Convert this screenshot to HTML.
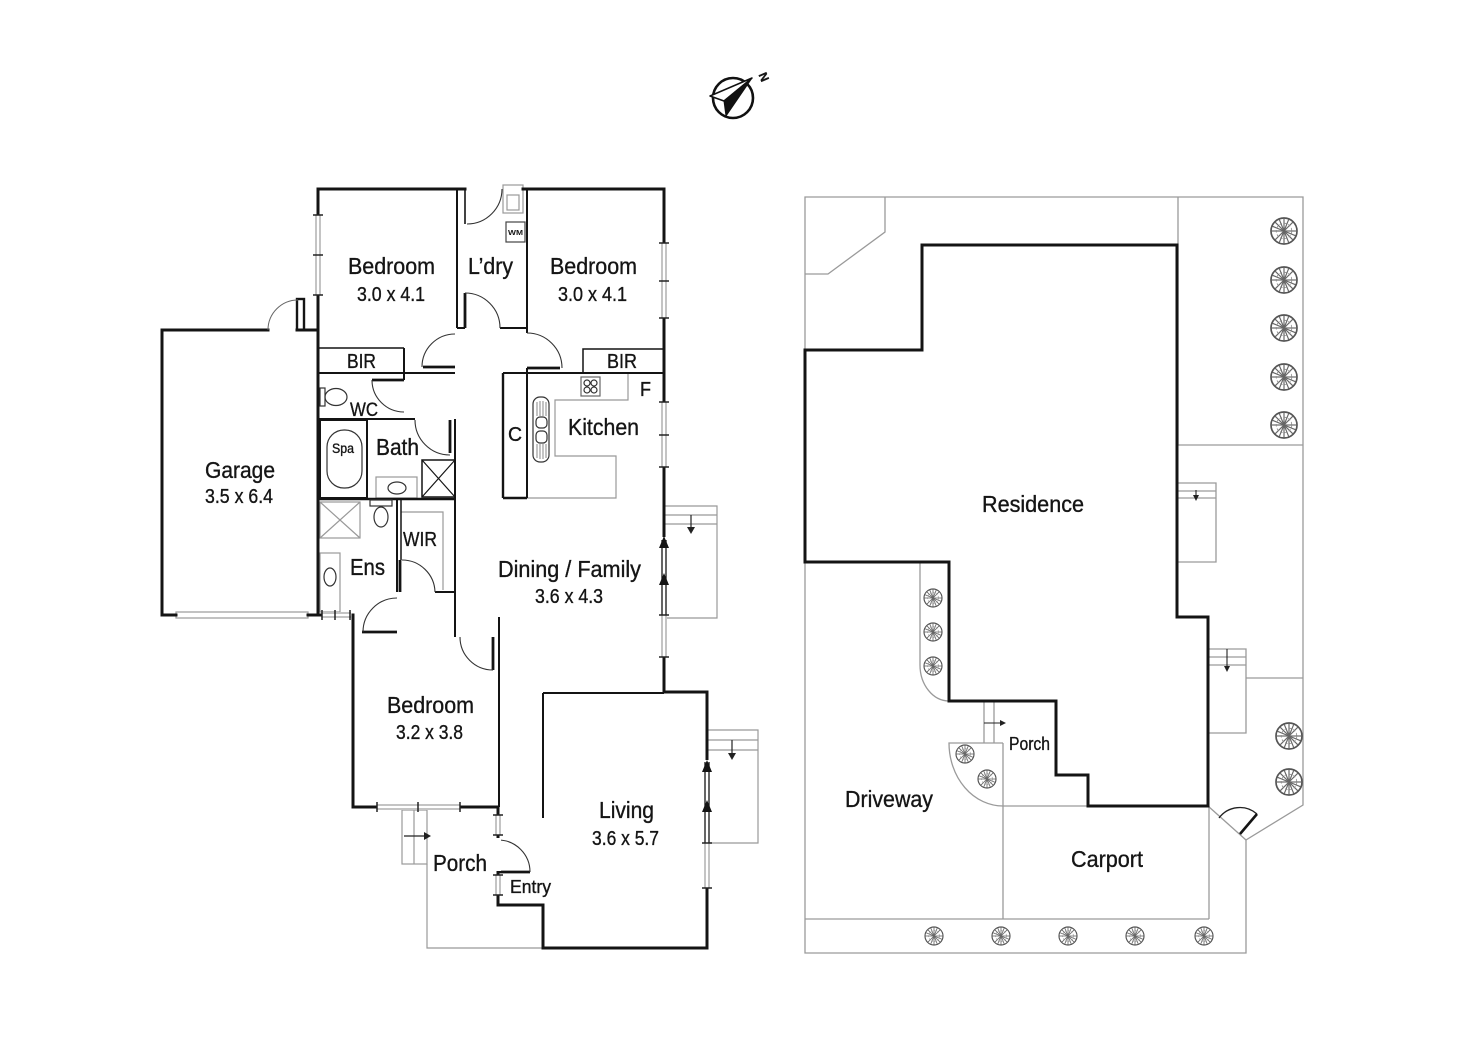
<!DOCTYPE html>
<html>
<head>
<meta charset="utf-8">
<style>
html,body{margin:0;padding:0;background:#fff;}
svg{display:block;}
text{font-family:"Liberation Sans",Arial,sans-serif;fill:#151515;stroke:#151515;stroke-width:0.35;}
</style>
</head>
<body>
<svg width="1472" height="1041" viewBox="0 0 1472 1041" xmlns="http://www.w3.org/2000/svg">
<defs>
  <g id="tree">
    <circle cx="0" cy="0" r="10" fill="#fff" stroke="#555" stroke-width="1.3"/>
    <g stroke="#666" stroke-width="0.9">
      <line x1="0" y1="0" x2="0" y2="-9.5"/>
      <line x1="0" y1="0" x2="6.7" y2="-6.7"/>
      <line x1="0" y1="0" x2="9.5" y2="0"/>
      <line x1="0" y1="0" x2="6.7" y2="6.7"/>
      <line x1="0" y1="0" x2="0" y2="9.5"/>
      <line x1="0" y1="0" x2="-6.7" y2="6.7"/>
      <line x1="0" y1="0" x2="-9.5" y2="0"/>
      <line x1="0" y1="0" x2="-6.7" y2="-6.7"/>
      <line x1="0" y1="0" x2="3.6" y2="-8.8"/>
      <line x1="0" y1="0" x2="-3.6" y2="8.8"/>
      <line x1="0" y1="0" x2="8.8" y2="3.6"/>
      <line x1="0" y1="0" x2="-8.8" y2="-3.6"/>
      <line x1="0" y1="0" x2="-3.6" y2="-8.8"/>
      <line x1="0" y1="0" x2="3.6" y2="8.8"/>
    </g>
    <circle cx="0" cy="0" r="6" fill="none" stroke="#888" stroke-width="0.6" stroke-dasharray="2 1.5"/>
  </g>
</defs>

<!-- ================= COMPASS ================= -->
<circle cx="733" cy="98" r="20" fill="none" stroke="#111" stroke-width="2.6"/>
<polygon points="710,96 752,78 724,101" fill="#fff" stroke="#111" stroke-width="1.5" stroke-linejoin="round"/>
<polygon points="752,78 724,101 726,116" fill="#111" stroke="#111" stroke-width="1"/>
<text x="762" y="77" font-size="12" font-weight="bold" transform="rotate(67 762 73)">N</text>

<!-- ================= LEFT FLOOR PLAN ================= -->
<g fill="none" stroke="#999" stroke-width="1.2">
  <rect x="176" y="612" width="132" height="6"/>
  <rect x="503" y="185" width="20" height="28"/>
  <rect x="507" y="195" width="12" height="15"/>
  <polyline points="628,373 628,400 555,400 555,456 616,456 616,498 527,498"/>
  <line x1="503" y1="380" x2="503" y2="492"/>
  <rect x="376" y="477" width="41" height="21"/>
  <rect x="320" y="502" width="40" height="36"/>
  <line x1="320" y1="502" x2="360" y2="538"/>
  <line x1="360" y1="502" x2="320" y2="538"/>
  <rect x="320" y="553" width="20" height="59"/>
  <polyline points="401,512 443,512 443,590"/>
  <polyline points="664,506 717,506 717,618 664,618"/>
  <line x1="664" y1="515" x2="717" y2="515"/>
  <line x1="664" y1="524" x2="717" y2="524"/>
  <polyline points="707,730 758,730 758,843 707,843"/>
  <line x1="707" y1="740" x2="758" y2="740"/>
  <line x1="707" y1="750" x2="758" y2="750"/>
  <rect x="402" y="810" width="25" height="54"/>
  <line x1="414" y1="810" x2="414" y2="864"/>
  <polyline points="427,864 427,948 543,948"/>
</g>

<g fill="none" stroke="#141414" stroke-width="3" stroke-linejoin="miter" stroke-linecap="square">
  <polyline points="318,615 318,189 465,189"/>
  <polyline points="523,189 664,189 664,692 707,692 707,948 543,948 543,905 498,905 498,807 353,807 353,615"/>
  <polyline points="268,330 162,330 162,615 176,615"/>
  <line x1="308" y1="615" x2="322" y2="615"/>
  <rect x="297" y="299" width="7" height="31" stroke-width="2.4"/>
  <line x1="297" y1="330" x2="318" y2="330"/>
</g>
<path d="M268,330 A30,30 0 0 1 298,300" fill="none" stroke="#666" stroke-width="1"/>

<g fill="none" stroke="#141414" stroke-width="2">
  <line x1="457" y1="189" x2="457" y2="328"/>
  <line x1="465" y1="189" x2="465" y2="224" stroke-width="1.6"/>
  <line x1="457" y1="328" x2="465" y2="328"/>
  <line x1="500" y1="328" x2="527" y2="328"/>
  <line x1="527" y1="189" x2="527" y2="333"/>
  <line x1="503" y1="373" x2="664" y2="373"/>
  <polyline points="583,373 583,349 663,349" stroke-width="1.5"/>
  <line x1="503" y1="373" x2="503" y2="498" stroke-width="2.4"/>
  <line x1="527" y1="368" x2="527" y2="498"/>
  <line x1="503" y1="498" x2="527" y2="498" stroke-width="2.4"/>
  <line x1="318" y1="348" x2="404" y2="348" stroke-width="1.5"/>
  <line x1="404" y1="348" x2="404" y2="380"/>
  <line x1="318" y1="373" x2="455" y2="373"/>
  <line x1="318" y1="419" x2="415" y2="419"/>
  <rect x="320" y="420" width="47" height="78"/>
  <line x1="367" y1="419" x2="415" y2="419"/>
  <line x1="455" y1="419" x2="455" y2="637"/>
  <line x1="318" y1="499" x2="455" y2="499" stroke-width="2.6"/>
  <rect x="422" y="460" width="33" height="37" stroke-width="1.5"/>
  <line x1="422" y1="460" x2="455" y2="497" stroke-width="1.2"/>
  <line x1="455" y1="460" x2="422" y2="497" stroke-width="1.2"/>
  <line x1="397" y1="500" x2="397" y2="592"/>
  <line x1="401" y1="500" x2="401" y2="560" stroke-width="1.5"/>
  <line x1="435" y1="592" x2="455" y2="592"/>
  <line x1="499" y1="617" x2="499" y2="807"/>
  <line x1="543" y1="693" x2="543" y2="818"/>
  <line x1="543" y1="693" x2="664" y2="693"/>
</g>

<g stroke="#141414" stroke-width="2.8" fill="none">
  <line x1="465" y1="293" x2="465" y2="328"/>
  <line x1="527" y1="368" x2="560" y2="368"/>
  <line x1="423" y1="367" x2="455" y2="367"/>
  <line x1="372" y1="380" x2="404" y2="380"/>
  <line x1="450" y1="420" x2="450" y2="453"/>
  <line x1="400" y1="560" x2="400" y2="592"/>
  <line x1="362" y1="632" x2="397" y2="632"/>
  <line x1="493" y1="637" x2="493" y2="670"/>
  <line x1="498" y1="872" x2="530" y2="872"/>
</g>
<g stroke="#333" stroke-width="1.1" fill="none">
  <path d="M467,224 A35,35 0 0 0 502,189"/>
  <path d="M465,293 A35,35 0 0 1 500,328"/>
  <path d="M527,333 A35,35 0 0 1 562,368"/>
  <path d="M422,367 A33,33 0 0 1 455,334"/>
  <path d="M372,380 A32,32 0 0 0 404,412"/>
  <path d="M415,420 A35,35 0 0 0 450,455"/>
  <path d="M402,560 A33,33 0 0 1 435,592"/>
  <path d="M363,632 A34,34 0 0 1 397,598"/>
  <path d="M460,637 A33,33 0 0 0 493,670"/>
  <path d="M498,840 A32,32 0 0 1 530,872"/>
</g>

<g fill="#fff" stroke="none">
  <rect x="315" y="215" width="6" height="80"/>
  <rect x="661" y="243" width="6" height="75"/>
  <rect x="661" y="402" width="6" height="65"/>
  <rect x="661" y="537" width="6" height="120"/>
  <rect x="704" y="760" width="6" height="128"/>
  <rect x="377" y="804" width="83" height="6"/>
  <rect x="495" y="815" width="6" height="20"/>
  <rect x="495" y="838" width="6" height="33"/>
  <rect x="495" y="875" width="6" height="20"/>
  <rect x="322" y="612" width="29" height="6"/>
</g>
<g stroke="#888" stroke-width="1" fill="none">
  <line x1="316" y1="215" x2="316" y2="295"/><line x1="320" y1="215" x2="320" y2="295"/>
  <line x1="662" y1="243" x2="662" y2="318"/><line x1="666" y1="243" x2="666" y2="318"/>
  <line x1="662" y1="402" x2="662" y2="467"/><line x1="666" y1="402" x2="666" y2="467"/>
  <line x1="662" y1="615" x2="662" y2="657"/><line x1="666" y1="615" x2="666" y2="657"/>
  <line x1="705" y1="843" x2="705" y2="888"/><line x1="709" y1="843" x2="709" y2="888"/>
  <line x1="377" y1="805" x2="460" y2="805"/><line x1="377" y1="809" x2="460" y2="809"/>
  <line x1="496" y1="815" x2="496" y2="835"/><line x1="500" y1="815" x2="500" y2="835"/>
  <line x1="496" y1="875" x2="496" y2="895"/><line x1="500" y1="875" x2="500" y2="895"/>
  <line x1="322" y1="613" x2="351" y2="613"/><line x1="322" y1="617" x2="351" y2="617"/>
</g>
<g stroke="#141414" stroke-width="1.3">
  <line x1="662" y1="540" x2="662" y2="615"/><line x1="666" y1="540" x2="666" y2="615"/>
  <line x1="705" y1="762" x2="705" y2="843"/><line x1="709" y1="762" x2="709" y2="843"/>
</g>
<g fill="#141414">
  <polygon points="664,536 659,548 669,548"/>
  <polygon points="664,573 659,585 669,585"/>
  <polygon points="707,760 702,772 712,772"/>
  <polygon points="707,800 702,812 712,812"/>
</g>
<g stroke="#222" stroke-width="1.5">
  <line x1="313" y1="215" x2="323" y2="215"/><line x1="313" y1="255" x2="323" y2="255"/><line x1="313" y1="295" x2="323" y2="295"/>
  <line x1="659" y1="243" x2="669" y2="243"/><line x1="659" y1="281" x2="669" y2="281"/><line x1="659" y1="318" x2="669" y2="318"/>
  <line x1="659" y1="402" x2="669" y2="402"/><line x1="659" y1="435" x2="669" y2="435"/><line x1="659" y1="467" x2="669" y2="467"/>
  <line x1="659" y1="615" x2="669" y2="615"/><line x1="659" y1="657" x2="669" y2="657"/>
  <line x1="702" y1="843" x2="712" y2="843"/><line x1="702" y1="888" x2="712" y2="888"/>
  <line x1="377" y1="802" x2="377" y2="812"/><line x1="418" y1="802" x2="418" y2="812"/><line x1="460" y1="802" x2="460" y2="812"/>
  <line x1="493" y1="815" x2="503" y2="815"/><line x1="493" y1="835" x2="503" y2="835"/>
  <line x1="493" y1="875" x2="503" y2="875"/><line x1="493" y1="895" x2="503" y2="895"/>
  <line x1="322" y1="610" x2="322" y2="620"/><line x1="335" y1="610" x2="335" y2="620"/><line x1="350" y1="610" x2="350" y2="620"/>
</g>

<g stroke="#222" stroke-width="1.2">
  <line x1="691" y1="515" x2="691" y2="530"/>
  <line x1="732" y1="740" x2="732" y2="756"/>
  <line x1="404" y1="836" x2="426" y2="836"/>
</g>
<g fill="#222">
  <polygon points="691,534 687,527 695,527"/>
  <polygon points="732,760 728,753 736,753"/>
  <polygon points="431,836 424,832 424,840"/>
</g>

<g fill="none" stroke="#333" stroke-width="1.2">
  <rect x="320" y="388" width="5" height="18"/>
  <ellipse cx="336" cy="397" rx="11" ry="8.5"/>
  <rect x="327" y="430" width="35" height="58" rx="17" ry="17"/>
  <ellipse cx="397" cy="488" rx="9" ry="6"/>
  <rect x="370" y="500" width="22" height="6"/>
  <ellipse cx="381" cy="517" rx="7" ry="10"/>
  <ellipse cx="330" cy="577" rx="6" ry="9"/>
  <rect x="581" y="377" width="19" height="19" stroke="#666"/>
  <circle cx="587" cy="383" r="3"/><circle cx="594" cy="383" r="3"/>
  <circle cx="587" cy="390" r="3"/><circle cx="594" cy="390" r="3"/>
  <rect x="533" y="397" width="16" height="65" rx="7" ry="7"/>
  <rect x="536" y="417" width="11" height="11" rx="4" ry="4"/>
  <rect x="536" y="431" width="11" height="12" rx="4" ry="4"/>
  <rect x="506" y="222" width="19" height="20" stroke="#444"/>
</g>
<g stroke="#555" stroke-width="0.7">
  <line x1="537" y1="402" x2="537" y2="416"/><line x1="540" y1="401" x2="540" y2="416"/><line x1="543" y1="401" x2="543" y2="416"/><line x1="546" y1="402" x2="546" y2="416"/>
  <line x1="537" y1="444" x2="537" y2="458"/><line x1="540" y1="444" x2="540" y2="459"/><line x1="543" y1="444" x2="543" y2="459"/><line x1="546" y1="444" x2="546" y2="458"/>
</g>
<text x="508" y="235" font-size="7" font-weight="bold" textLength="15" lengthAdjust="spacingAndGlyphs" style="stroke-width:0">WM</text>

<g>
  <text x="348" y="274" font-size="23" textLength="87" lengthAdjust="spacingAndGlyphs">Bedroom</text>
  <text x="357" y="301" font-size="20" textLength="68" lengthAdjust="spacingAndGlyphs">3.0 x 4.1</text>
  <text x="468" y="274" font-size="23" textLength="45" lengthAdjust="spacingAndGlyphs">L’dry</text>
  <text x="550" y="274" font-size="23" textLength="87" lengthAdjust="spacingAndGlyphs">Bedroom</text>
  <text x="558" y="301" font-size="20" textLength="69" lengthAdjust="spacingAndGlyphs">3.0 x 4.1</text>
  <text x="347" y="368" font-size="20" textLength="29" lengthAdjust="spacingAndGlyphs">BIR</text>
  <text x="607" y="368" font-size="20" textLength="30" lengthAdjust="spacingAndGlyphs">BIR</text>
  <text x="640" y="396" font-size="20" textLength="11" lengthAdjust="spacingAndGlyphs">F</text>
  <text x="350" y="416" font-size="19" textLength="28" lengthAdjust="spacingAndGlyphs">WC</text>
  <text x="568" y="435" font-size="23" textLength="71" lengthAdjust="spacingAndGlyphs">Kitchen</text>
  <text x="508" y="441" font-size="20" textLength="14" lengthAdjust="spacingAndGlyphs">C</text>
  <text x="332" y="453" font-size="14" textLength="22" lengthAdjust="spacingAndGlyphs">Spa</text>
  <text x="376" y="455" font-size="23" textLength="43" lengthAdjust="spacingAndGlyphs">Bath</text>
  <text x="205" y="478" font-size="23" textLength="70" lengthAdjust="spacingAndGlyphs">Garage</text>
  <text x="205" y="503" font-size="20" textLength="68" lengthAdjust="spacingAndGlyphs">3.5 x 6.4</text>
  <text x="403" y="546" font-size="20" textLength="34" lengthAdjust="spacingAndGlyphs">WIR</text>
  <text x="350" y="575" font-size="23" textLength="35" lengthAdjust="spacingAndGlyphs">Ens</text>
  <text x="498" y="577" font-size="23" textLength="143" lengthAdjust="spacingAndGlyphs">Dining / Family</text>
  <text x="535" y="603" font-size="20" textLength="68" lengthAdjust="spacingAndGlyphs">3.6 x 4.3</text>
  <text x="387" y="713" font-size="23" textLength="87" lengthAdjust="spacingAndGlyphs">Bedroom</text>
  <text x="396" y="739" font-size="20" textLength="67" lengthAdjust="spacingAndGlyphs">3.2 x 3.8</text>
  <text x="433" y="871" font-size="23" textLength="54" lengthAdjust="spacingAndGlyphs">Porch</text>
  <text x="510" y="893" font-size="18" textLength="41" lengthAdjust="spacingAndGlyphs">Entry</text>
  <text x="599" y="818" font-size="23" textLength="55" lengthAdjust="spacingAndGlyphs">Living</text>
  <text x="592" y="845" font-size="20" textLength="67" lengthAdjust="spacingAndGlyphs">3.6 x 5.7</text>
</g>

<!-- ================= SITE PLAN ================= -->
<g fill="none" stroke="#9a9a9a" stroke-width="1.3">
  <polygon points="805,197 1303,197 1303,805 1246,840 1246,953 805,953"/>
  <polyline points="805,274 828,274 885,232 885,197"/>
  <line x1="1178" y1="197" x2="1178" y2="445"/>
  <line x1="1178" y1="445" x2="1303" y2="445"/>
  <polyline points="1178,483 1216,483 1216,562 1178,562"/>
  <line x1="1178" y1="491" x2="1216" y2="491"/>
  <line x1="1178" y1="498" x2="1216" y2="498"/>
  <polyline points="1208,649 1246,649 1246,733 1208,733"/>
  <line x1="1208" y1="657" x2="1246" y2="657"/>
  <line x1="1208" y1="665" x2="1246" y2="665"/>
  <line x1="1246" y1="678" x2="1303" y2="678"/>
  <line x1="805" y1="919" x2="1209" y2="919"/>
  <line x1="1003" y1="743" x2="1003" y2="919"/>
  <line x1="1209" y1="806" x2="1209" y2="919"/>
  <line x1="1208" y1="806" x2="1246" y2="840"/>
  <line x1="1003" y1="806" x2="1088" y2="806"/>
  <path d="M920,562 L920,665 A29,36 0 0 0 949,701"/>
  <path d="M1003,743 L949,743 A54,63 0 0 0 1003,806"/>
  <line x1="984" y1="701" x2="984" y2="743"/>
  <line x1="994" y1="701" x2="994" y2="743"/>
</g>
<g stroke="#222" stroke-width="1.1">
  <line x1="1196" y1="490" x2="1196" y2="497"/>
  <line x1="1227" y1="649" x2="1227" y2="667"/>
  <line x1="984" y1="723" x2="1001" y2="723"/>
</g>
<g fill="#222">
  <polygon points="1196,501 1193,495 1199,495"/>
  <polygon points="1227,672 1224,666 1230,666"/>
  <polygon points="1006,723 1000,720 1000,726"/>
</g>
<polygon points="922,245 1177,245 1177,617 1208,617 1208,806 1088,806 1088,775 1056,775 1056,701 949,701 949,562 805,562 805,350 922,350" fill="none" stroke="#141414" stroke-width="3"/>
<path d="M1219,818 A26,26 0 0 1 1257,814" fill="none" stroke="#222" stroke-width="1.3"/>
<line x1="1240" y1="834" x2="1257" y2="814" stroke="#141414" stroke-width="2.6"/>

<use href="#tree" transform="translate(1284,231) scale(1.3)"/>
<use href="#tree" transform="translate(1284,280) scale(1.3)"/>
<use href="#tree" transform="translate(1284,328) scale(1.3)"/>
<use href="#tree" transform="translate(1284,377) scale(1.3)"/>
<use href="#tree" transform="translate(1284,425) scale(1.3)"/>
<use href="#tree" transform="translate(1289,736) scale(1.3)"/>
<use href="#tree" transform="translate(1289,782) scale(1.3)"/>
<use href="#tree" transform="translate(933,598) scale(0.9)"/>
<use href="#tree" transform="translate(933,632) scale(0.9)"/>
<use href="#tree" transform="translate(933,666) scale(0.9)"/>
<use href="#tree" transform="translate(965,754) scale(0.9)"/>
<use href="#tree" transform="translate(987,779) scale(0.9)"/>
<use href="#tree" transform="translate(934,936) scale(0.9)"/>
<use href="#tree" transform="translate(1001,936) scale(0.9)"/>
<use href="#tree" transform="translate(1068,936) scale(0.9)"/>
<use href="#tree" transform="translate(1135,936) scale(0.9)"/>
<use href="#tree" transform="translate(1204,936) scale(0.9)"/>

<text x="982" y="512" font-size="23" textLength="102" lengthAdjust="spacingAndGlyphs">Residence</text>
<text x="845" y="807" font-size="23" textLength="88" lengthAdjust="spacingAndGlyphs">Driveway</text>
<text x="1071" y="867" font-size="23" textLength="72" lengthAdjust="spacingAndGlyphs">Carport</text>
<text x="1009" y="750" font-size="18" textLength="41" lengthAdjust="spacingAndGlyphs">Porch</text>
</svg>
</body>
</html>
